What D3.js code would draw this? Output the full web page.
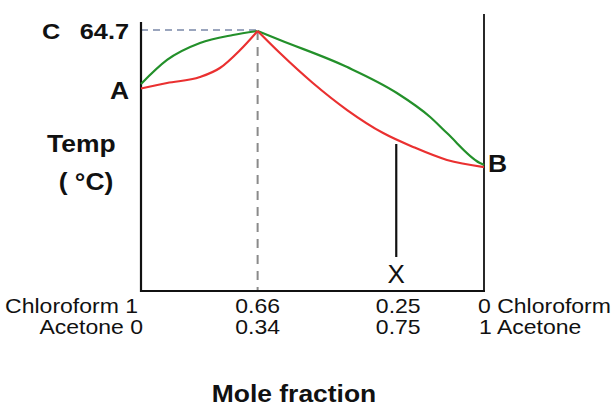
<!DOCTYPE html>
<html>
<head>
<meta charset="utf-8">
<script src="https://cdn.jsdelivr.net/npm/d3@7"></script>
<style>
  body { margin: 0; background: #fff; }
  text { font-family: "Liberation Sans", Arial, sans-serif; fill: #111; }
</style>
</head>
<body>
<div id="vis1"></div>
<script>
// mole fraction of chloroform (1 = left, 0 = right), temperature in deg C
const vapourLeft  = [[1.0, 61.41], [0.924, 62.90], [0.828, 63.95], [0.732, 64.45], [0.66, 64.7]];
const vapourRight = [[0.66, 64.7], [0.595, 64.14], [0.399, 62.46], [0.254, 60.85], [0.157, 59.36], [0.108, 58.36], [0.012, 56.50], [0.0, 56.38]];
const liquidLeft  = [[1.0, 61.13], [0.924, 61.47], [0.828, 61.84], [0.770, 62.40], [0.711, 63.52], [0.66, 64.7]];
const liquidRight = [[0.66, 64.7], [0.595, 63.33], [0.499, 61.47], [0.399, 59.79], [0.294, 58.36], [0.207, 57.50], [0.108, 56.69], [0.0, 56.25]];

const azeoX = 0.66;
const azeoT = 64.7;
const pointX = 0.25;          // composition marked X
const pointXTop = 57.68;      // where the X line starts
const pointXBottom = 50.66;

const tickChloro = ["Chloroform 1", "0.66", "0.25", "0 Chloroform"];
const tickAcetone = ["Acetone 0", "0.34", "0.75", "1 Acetone"];
const tickPos = [1, 0.66, 0.25, 0];

const FRAME_WIDTH = 615;
const FRAME_HEIGHT = 408;
const SX = 1.15; // the picture's text is a bit wide

const svg = d3.select("#vis1")
  .append("svg")
  .attr("width", FRAME_WIDTH)
  .attr("height", FRAME_HEIGHT);

const xScale = d3.scaleLinear().domain([1, 0]).range([141, 484]);
const yScale = d3.scaleLinear().domain([48.55, 64.7]).range([291, 31]);

function label(x, y, txt, size, weight, anchor, sx) {
  svg.append("text")
    .attr("transform", `translate(${x},${y}) scale(${sx === undefined ? SX : sx},1)`)
    .attr("text-anchor", anchor)
    .attr("font-size", size + "px")
    .attr("font-weight", weight)
    .text(txt);
}

// dashed guides to the azeotrope
svg.append("line")
  .attr("x1", xScale(1)).attr("x2", xScale(azeoX))
  .attr("y1", yScale(azeoT) - 1).attr("y2", yScale(azeoT) - 1)
  .attr("stroke", "#7a88a8").attr("stroke-width", 1.6)
  .attr("stroke-dasharray", "7,5");

svg.append("line")
  .attr("x1", xScale(azeoX)).attr("x2", xScale(azeoX))
  .attr("y1", yScale(azeoT)).attr("y2", yScale(48.55))
  .attr("stroke", "#8a8a8a").attr("stroke-width", 2)
  .attr("stroke-dasharray", "9,7");

// axes frame (no ticks)
svg.append("line")
  .attr("x1", xScale(1)).attr("x2", xScale(1))
  .attr("y1", yScale(65.26)).attr("y2", yScale(48.55) + 1)
  .attr("stroke", "#111").attr("stroke-width", 2.2);

svg.append("line")
  .attr("x1", xScale(0)).attr("x2", xScale(0))
  .attr("y1", yScale(65.76)).attr("y2", yScale(48.55) + 1)
  .attr("stroke", "#111").attr("stroke-width", 1.8);

svg.append("line")
  .attr("x1", xScale(1) - 1).attr("x2", xScale(0) + 1)
  .attr("y1", yScale(48.55)).attr("y2", yScale(48.55))
  .attr("stroke", "#111").attr("stroke-width", 2.2);

// curves
const line = d3.line()
  .x(d => xScale(d[0]))
  .y(d => yScale(d[1]))
  .curve(d3.curveMonotoneX);

[vapourLeft, vapourRight].forEach(s => {
  svg.append("path").datum(s)
    .attr("d", line)
    .attr("fill", "none")
    .attr("stroke", "#23902a")
    .attr("stroke-width", 2.2);
});

[liquidLeft, liquidRight].forEach(s => {
  svg.append("path").datum(s)
    .attr("d", line)
    .attr("fill", "none")
    .attr("stroke", "#ea3030")
    .attr("stroke-width", 2.2);
});

// line down to X
svg.append("line")
  .attr("x1", xScale(pointX) - 2).attr("x2", xScale(pointX) - 2)
  .attr("y1", yScale(pointXTop)).attr("y2", yScale(pointXBottom))
  .attr("stroke", "#111").attr("stroke-width", 2.2);

label(xScale(pointX) - 2, 283, "X", 26, "normal", "middle", 1);

// left labels
label(42, 39, "C", 22, "bold", "start");
label(129, 39, "64.7", 22, "bold", "end");
label(129, 99, "A", 23, "bold", "end");
label(47, 152, "Temp", 23, "bold", "start");
label(86, 190, "( \u00B0C)", 23, "bold", "middle");
label(488, 172, "B", 23, "bold", "start");

// composition labels under the axis
tickPos.forEach((p, i) => {
  let anchor = "middle", dx = 0;
  if (i === 0) { anchor = "end"; }
  if (i === tickPos.length - 1) { anchor = "start"; dx = -6; }
  label(xScale(p) + dx - (i === 0 ? 3 : 0), 313, tickChloro[i], 20, "normal", anchor);
  label(xScale(p) + dx + (i === 0 ? 2 : 0) + (i === 3 ? 1 : 0), 334, tickAcetone[i], 20, "normal", anchor);
});

label(294, 402, "Mole fraction", 23, "bold", "middle");
</script>
</body>
</html>
